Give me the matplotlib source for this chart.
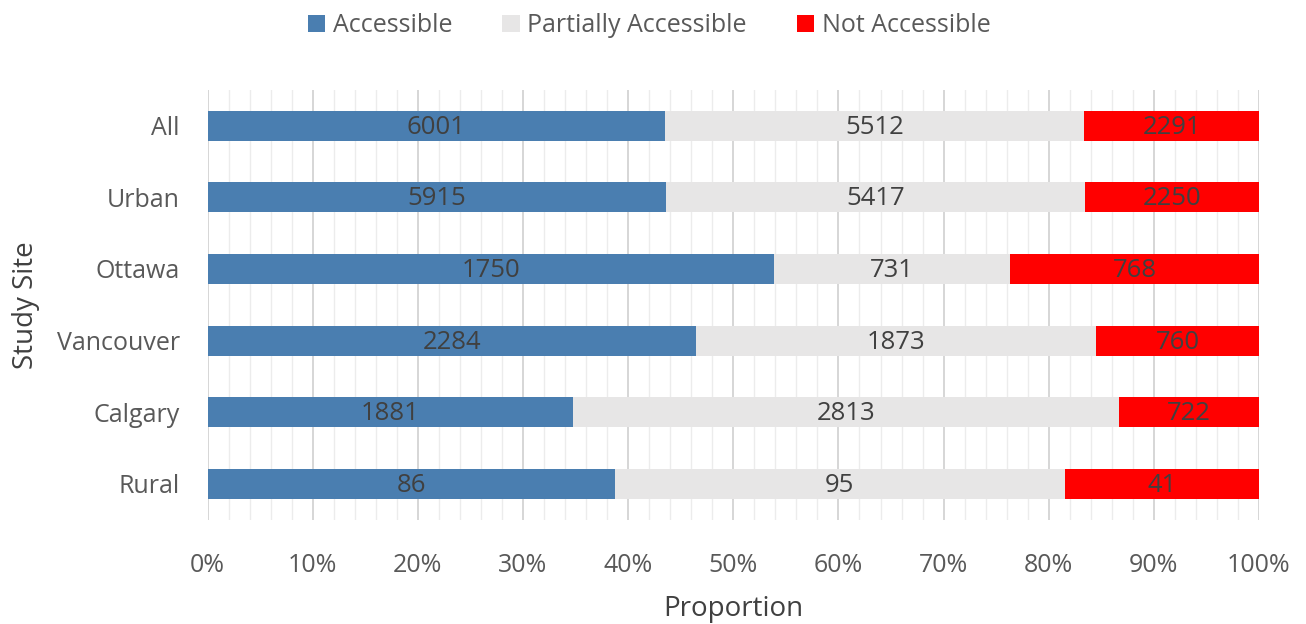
import numpy as np
import matplotlib.pyplot as plt
from matplotlib.ticker import MultipleLocator, PercentFormatter

plt.rcParams['font.family'] = ['Open Sans', 'DejaVu Sans']

sites = ["All", "Urban", "Ottawa", "Vancouver", "Calgary", "Rural"]
accessible = [6001, 5915, 1750, 2284, 1881, 86]
partial = [5512, 5417, 731, 1873, 2813, 95]
not_accessible = [2291, 2250, 768, 760, 722, 41]

series = [
    ("Accessible", accessible, "#4a7eb0"),
    ("Partially Accessible", partial, "#e7e6e6"),
    ("Not Accessible", not_accessible, "#ff0000"),
]

counts = np.array([accessible, partial, not_accessible], dtype=float)
shares = counts / counts.sum(axis=0)

fig = plt.figure(figsize=(13.06, 6.24), dpi=100)
ax = fig.add_axes([0.159, 0.167, 0.805, 0.689])

y = np.arange(len(sites))
left = np.zeros(len(sites))
for i, (name, vals, color) in enumerate(series):
    ax.barh(y, shares[i], left=left, height=0.42, color=color,
            label=name, zorder=3)
    for yi, l, w, v in zip(y, left, shares[i], vals):
        ax.text(l + w / 2, yi + 0.02, str(v), ha='center', va='center',
                fontsize=18.5, color='#404040', zorder=4)
    left += shares[i]

ax.set_xlim(0, 1)
ax.set_ylim(len(sites) - 0.5, -0.5)
ax.set_yticks(y)
ax.set_yticklabels(sites)
ax.xaxis.set_major_locator(MultipleLocator(0.1))
ax.xaxis.set_minor_locator(MultipleLocator(0.02))
ax.xaxis.set_major_formatter(PercentFormatter(1.0, decimals=0))
ax.grid(True, axis='x', which='major', color='#d0d0d0', linewidth=1.2, zorder=0)
ax.grid(True, axis='x', which='minor', color='#ececec', linewidth=1.0, zorder=0)
ax.tick_params(axis='both', which='both', length=0, labelsize=18,
               labelcolor='#595959')
ax.tick_params(axis='x', pad=24)
ax.tick_params(axis='y', pad=20)
for s in ax.spines.values():
    s.set_visible(False)

ax.set_xlabel("Proportion", fontsize=20, color='#404040', labelpad=12)
ax.set_ylabel("Study Site", fontsize=20, color='#404040', labelpad=12)

fig.legend(loc='upper center', bbox_to_anchor=(0.497, 1.015), ncol=3,
           frameon=False, fontsize=18, handlelength=0.7, handleheight=0.7,
           handletextpad=0.3, columnspacing=2.0, labelcolor='#595959')

fig.savefig("out.png", dpi=100)
